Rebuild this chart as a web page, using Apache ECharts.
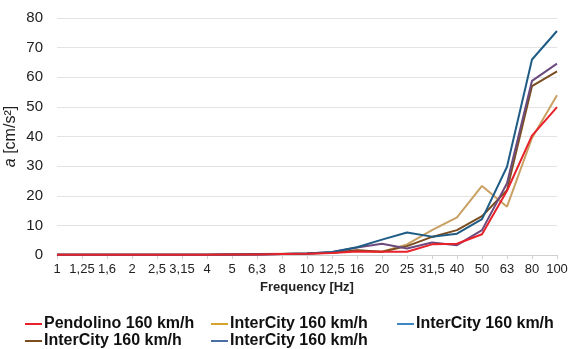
<!DOCTYPE html>
<html><head><meta charset="utf-8">
<script src="https://cdn.jsdelivr.net/npm/echarts@6/dist/echarts.min.js"></script>
<style>html,body{margin:0;padding:0;background:#fff}#c{width:570px;height:349px}</style>
</head><body><div id="c"></div>
<script>
const categories = ['1','1,25','1,6','2','2,5','3,15','4','5','6,3','8','10','12,5','16','20','25','31,5','40','50','63','80','100'];
const yTicks = [0,10,20,30,40,50,60,70,80];
const seriesNames = ['s1','s2','s3','s4','s5'];
const legendLabels = ['Pendolino 160 km/h','InterCity 160 km/h','InterCity 160 km/h','InterCity 160 km/h','InterCity 160 km/h'];
const pendolino = [0.1,0.1,0.1,0.1,0.1,0.1,0.1,0.2,0.2,0.3,0.4,0.7,1.2,1.1,1.1,3.6,3.8,7.0,21.7,40.3,49.9];
const intercityTan = [0.1,0.1,0.1,0.1,0.1,0.1,0.1,0.2,0.3,0.4,0.5,0.8,1.5,1.1,3.6,8.4,12.7,23.3,16.3,39.5,53.9];
const intercityBlue = [0.1,0.1,0.1,0.1,0.1,0.1,0.1,0.2,0.2,0.3,0.5,1.0,2.6,5.2,7.6,6.2,7.2,12.1,29.8,66.0,75.6];
const intercityBrown = [0.1,0.1,0.1,0.1,0.1,0.1,0.1,0.2,0.3,0.3,0.5,0.8,1.6,1.1,3.0,6.1,8.4,13.1,21.9,57.0,62.0];
const intercityPurple = [0.1,0.1,0.1,0.1,0.1,0.1,0.1,0.2,0.2,0.3,0.5,0.9,2.5,3.8,2.2,4.2,3.3,8.4,24.2,58.8,64.6];
const values = [pendolino, intercityTan, intercityBlue, intercityBrown, intercityPurple];
const lineColors = ['#e8212b','#c9a063','#1f5c86','#7b4d1f','#6b4b7e'];
const legendColors = ['#e8212b','#d4a52a','#3f86c4','#7b4d1f','#4b6fa3'];
const legendPos = [[20,311],[206,311],[392,311],[20,328],[206,328]];

const chart = echarts.init(document.getElementById('c'), null, {renderer:'canvas'});
const legends = seriesNames.map((n,i)=>({
  data:[{name:n, itemStyle:{color:legendColors[i]}, lineStyle:{color:legendColors[i]}}],
  left: legendPos[i][0], top: legendPos[i][1],
  itemWidth: 17, itemHeight: 10, itemGap: 2,
  icon: 'path://M0,4L17,4L17,6L0,6Z',
  formatter: ()=>legendLabels[i],
  textStyle:{fontFamily:'Liberation Sans', fontWeight:'bold', fontSize:16, color:'#111', padding:[0,0,0,-3]}
}));
chart.setOption({
  animation:false,
  grid:{left:57,right:13,top:18,bottom:94,containLabel:false,outerBoundsMode:'none'},
  legend: legends,
  xAxis:{
    type:'category', data:categories, boundaryGap:false,
    name:'Frequency [Hz]', nameLocation:'middle', nameGap:26, nameMoveOverlap:false,
    nameTextStyle:{fontFamily:'Liberation Sans', fontSize:13, fontWeight:'bold', color:'#222'},
    axisLine:{lineStyle:{color:'#d0d0d0'}},
    axisTick:{show:true, alignWithLabel:true, length:4, lineStyle:{color:'#d0d0d0'}},
    axisLabel:{interval:0, fontFamily:'Liberation Sans', fontSize:13, color:'#222', margin:8},
    splitLine:{show:false}
  },
  yAxis:{
    type:'value', min:yTicks[0], max:yTicks[yTicks.length-1], interval:10,
    name:'{i|a} [cm/s²]', nameLocation:'middle', nameGap:38, nameRotate:90, nameMoveOverlap:false,
    nameTextStyle:{fontFamily:'Liberation Sans', fontSize:16, color:'#222',
      rich:{i:{fontStyle:'italic', fontFamily:'Liberation Sans', fontSize:16, color:'#222'}}},
    axisLine:{show:false}, axisTick:{show:false},
    axisLabel:{fontFamily:'Liberation Sans', fontSize:15, color:'#222', margin:14},
    splitLine:{lineStyle:{color:'#e3e3e3'}}
  },
  series: seriesNames.map((n,i)=>({
    name:n, type:'line', data:values[i], symbol:'none', smooth:false,
    lineStyle:{width:2, color:lineColors[i]}, itemStyle:{color:lineColors[i]},
    z: [5,3,4,3,3][i]
  }))
});
</script></body></html>
